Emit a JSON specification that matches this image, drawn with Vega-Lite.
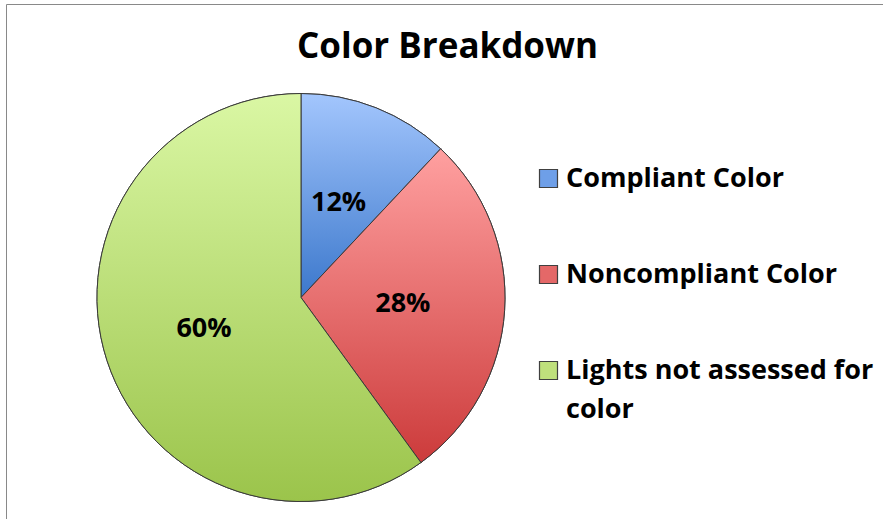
{
  "$schema": "https://vega.github.io/schema/vega-lite/v6.json",
  "width": 877,
  "height": 515,
  "autosize": {"type": "none"},
  "padding": {"left": 6, "top": 4, "right": 0, "bottom": 0},
  "background": "white",
  "view": {"stroke": "#898989", "strokeWidth": 1},
  "title": {
    "text": "Color Breakdown",
    "font": "Open Sans",
    "fontSize": 35,
    "fontWeight": "bold",
    "color": "#000000",
    "anchor": "middle",
    "frame": "group",
    "baseline": "alphabetic",
    "dx": 3,
    "offset": -89
  },
  "data": {
    "values": [
      {"category": "Compliant Color", "share": 0.12, "order": 1},
      {"category": "Noncompliant Color", "share": 0.28, "order": 2},
      {"category": "Lights not assessed for color", "share": 0.60, "order": 3}
    ]
  },
  "transform": [
    {"stack": "share", "groupby": [], "sort": [{"field": "order", "order": "ascending"}], "as": ["s0", "s1"]}
  ],
  "layer": [
    {
      "mark": {"type": "arc", "x": 295, "y": 293.5, "outerRadius": 204, "stroke": "#3a3a3a", "strokeWidth": 1},
      "encoding": {
        "theta": {"field": "s0", "type": "quantitative", "scale": {"domain": [0, 1]}},
        "theta2": {"field": "s1"},
        "color": {
          "field": "category",
          "type": "nominal",
          "scale": {
            "domain": ["Compliant Color", "Noncompliant Color", "Lights not assessed for color"],
            "range": ["#6e9fe8", "#e46868", "#bfe07c"]
          },
          "legend": {
            "orient": "none",
            "legendX": 529,
            "legendY": 161,
            "title": null,
            "symbolType": "square",
            "symbolSize": 324,
            "symbolStrokeColor": "#404040",
            "symbolStrokeWidth": 1.2,
            "symbolOpacity": 1,
            "labelFont": "Open Sans",
            "labelFontSize": 27,
            "labelFontWeight": "bold",
            "labelColor": "#000000",
            "labelOffset": 4,
            "labelLimit": 500,
            "rowPadding": 68,
            "labelExpr": "datum.label == 'Lights not assessed for color' ? ['Lights not assessed for', 'color'] : datum.label"
          }
        }
      }
    },
    {
      "transform": [{"filter": "datum.order == 1"}],
      "mark": {"type": "arc", "x": 295, "y": 293.5, "outerRadius": 204, "stroke": "#3a3a3a", "strokeWidth": 1,
        "fill": {"gradient": "linear", "x1": 0, "y1": 0, "x2": 0, "y2": 1, "stops": [{"offset": 0, "color": "#a3c6fd"}, {"offset": 1, "color": "#3c78cc"}]}},
      "encoding": {
        "theta": {"field": "s0", "type": "quantitative"},
        "theta2": {"field": "s1"}
      }
    },
    {
      "transform": [{"filter": "datum.order == 2"}],
      "mark": {"type": "arc", "x": 295, "y": 293.5, "outerRadius": 204, "stroke": "#3a3a3a", "strokeWidth": 1,
        "fill": {"gradient": "linear", "x1": 0, "y1": 0, "x2": 0, "y2": 1, "stops": [{"offset": 0, "color": "#ffa0a0"}, {"offset": 1, "color": "#cc3b3b"}]}},
      "encoding": {
        "theta": {"field": "s0", "type": "quantitative"},
        "theta2": {"field": "s1"}
      }
    },
    {
      "transform": [{"filter": "datum.order == 3"}],
      "mark": {"type": "arc", "x": 295, "y": 293.5, "outerRadius": 204, "stroke": "#3a3a3a", "strokeWidth": 1,
        "fill": {"gradient": "linear", "x1": 0, "y1": 0, "x2": 0, "y2": 1, "stops": [{"offset": 0, "color": "#daf7a4"}, {"offset": 1, "color": "#9bc44b"}]}},
      "encoding": {
        "theta": {"field": "s0", "type": "quantitative"},
        "theta2": {"field": "s1"}
      }
    },
    {
      "mark": {"type": "text", "x": 295, "y": 293.5, "radius": 102, "font": "Open Sans", "fontSize": 27, "fontWeight": "bold", "color": "#000000"},
      "encoding": {
        "theta": {"field": "share", "type": "quantitative", "stack": true},
        "order": {"field": "order", "type": "ordinal"},
        "text": {"field": "share", "type": "quantitative", "format": ".0%"}
      }
    }
  ],
  "config": {
    "view": {"stroke": "#898989", "strokeWidth": 1},
    "style": {"guide-label": {"lineHeight": 39}},
    "font": "Open Sans"
  }
}
